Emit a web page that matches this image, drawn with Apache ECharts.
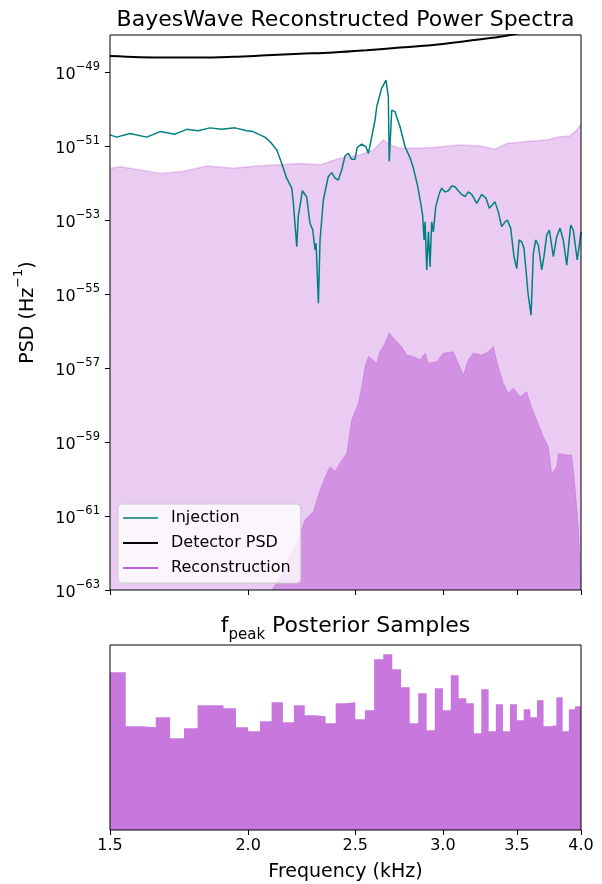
<!DOCTYPE html>
<html><head><meta charset="utf-8">
<script src="https://cdn.jsdelivr.net/npm/echarts@6/dist/echarts.min.js"></script>
<style>html,body{margin:0;padding:0;background:#fff}#c{width:602px;height:884px}</style>
</head><body><div id="c"></div>
<script>
// ---- data (frequency in kHz, PSD given as log10 of Hz^-1) ----
const injFreq = [1.500,1.521,1.564,1.619,1.665,1.717,1.760,1.802,1.847,1.893,
  1.946,1.994,2.020,2.050,2.071,2.093,2.123,2.145,2.167,2.190,
  2.197,2.213,2.220,2.239,2.259,2.275,2.288,2.299,2.304,2.315,
  2.323,2.339,2.363,2.380,2.397,2.413,2.430,2.447,2.464,2.481,
  2.498,2.510,2.534,2.556,2.569,2.587,2.605,2.614,2.641,2.665,
  2.678,2.683,2.697,2.715,2.744,2.773,2.802,2.821,2.845,2.865,
  2.876,2.885,2.891,2.901,2.911,2.921,2.931,2.941,2.956,2.978,
  2.993,3.014,3.034,3.056,3.077,3.098,3.120,3.142,3.163,3.186,
  3.219,3.253,3.282,3.305,3.344,3.367,3.391,3.415,3.431,3.455,
  3.479,3.499,3.516,3.535,3.552,3.567,3.582,3.605,3.622,3.640,
  3.660,3.686,3.703,3.724,3.745,3.776,3.803,3.829,3.855,3.883,
  3.915,3.936,3.969,3.986,4.000];
const injLogPSD = [-50.70,-50.76,-50.66,-50.76,-50.61,-50.68,-50.55,-50.59,-50.51,-50.55,
  -50.51,-50.59,-50.61,-50.70,-50.76,-50.88,-51.11,-51.47,-51.87,-52.14,
  -52.51,-53.72,-52.91,-52.21,-52.37,-53.09,-53.27,-53.81,-53.63,-55.25,
  -53.54,-52.46,-51.83,-51.72,-51.87,-51.92,-51.65,-51.27,-51.20,-51.36,
  -51.36,-51.04,-50.95,-51.02,-51.20,-50.75,-50.30,-49.94,-49.44,-49.22,
  -49.67,-51.42,-50.03,-50.07,-50.48,-51.02,-51.32,-51.59,-52.05,-52.55,
  -52.86,-53.54,-53.05,-54.35,-53.32,-54.26,-53.05,-53.32,-52.64,-52.28,
  -52.14,-52.24,-52.21,-52.08,-52.10,-52.21,-52.31,-52.37,-52.24,-52.31,
  -52.55,-52.31,-52.41,-52.68,-52.51,-52.78,-53.18,-53.05,-53.00,-53.22,
  -53.99,-54.31,-53.54,-53.59,-53.76,-54.35,-54.98,-55.57,-53.90,-53.54,
  -53.68,-54.35,-53.99,-53.41,-53.27,-53.99,-53.45,-53.22,-53.54,-54.22,
  -53.14,-53.27,-54.08,-53.68,-53.32];

const detFreq = [1.500,1.597,1.688,1.809,1.938,2.079,2.228,2.387,2.560,2.744,2.939,3.153,3.379,3.597,4.000];
const detLogPSD = [-48.57,-48.60,-48.61,-48.61,-48.59,-48.55,-48.51,-48.47,-48.41,-48.34,-48.27,-48.16,-48.05,-47.89,-47.65];

const recUpperFreq = [1.500,1.532,1.597,1.665,1.747,1.835,1.939,2.036,2.137,2.228,
  2.323,2.422,2.525,2.596,2.650,2.687,2.744,2.841,2.941,3.109,
  3.241,3.344,3.427,3.572,3.724,3.829,3.909,3.959,4.000];
const recUpperLogPSD = [-51.60,-51.56,-51.65,-51.74,-51.69,-51.54,-51.60,-51.54,-51.51,-51.47,
  -51.51,-51.33,-51.24,-51.11,-50.84,-50.97,-51.06,-51.06,-51.04,-50.97,
  -51.00,-51.09,-50.93,-50.88,-50.84,-50.75,-50.73,-50.59,-50.41];

const recMedFreq = [2.102,2.146,2.182,2.210,2.251,2.291,2.323,2.355,2.372,2.397,
  2.430,2.456,2.481,2.516,2.534,2.551,2.569,2.614,2.632,2.660,
  2.683,2.715,2.754,2.782,2.821,2.861,2.891,2.911,2.962,3.003,
  3.066,3.098,3.131,3.163,3.196,3.253,3.298,3.332,3.367,3.402,
  3.438,3.474,3.523,3.572,3.610,3.648,3.698,3.737,3.763,3.803,
  3.815,3.883,3.923,3.950,3.978,4.000];
const recMedLogPSD = [-63.00,-62.59,-62.05,-61.78,-61.11,-60.88,-60.30,-59.85,-59.67,-59.80,
  -59.49,-59.31,-58.41,-57.95,-57.51,-56.96,-56.69,-56.87,-56.56,-56.33,
  -56.05,-56.24,-56.42,-56.65,-56.69,-56.78,-56.60,-56.87,-56.83,-56.60,
  -56.56,-56.87,-57.19,-56.78,-56.60,-56.65,-56.56,-56.42,-56.96,-57.41,
  -57.68,-57.55,-57.78,-57.64,-58.09,-58.41,-58.86,-59.13,-59.85,-59.67,
  -59.31,-59.35,-59.35,-60.21,-61.29,-62.81];

const histEdges = [1.50,1.55,1.60,1.65,1.70,1.75,1.80,1.85,1.90,1.95,
  2.00,2.05,2.10,2.15,2.20,2.25,2.30,2.35,2.40,2.45,
  2.50,2.55,2.60,2.65,2.70,2.75,2.80,2.85,2.90,2.95,
  3.00,3.05,3.10,3.15,3.20,3.25,3.30,3.35,3.40,3.45,
  3.50,3.55,3.60,3.65,3.70,3.75,3.80,3.85,3.90,3.95,4.00];
const histCounts = [474,312,309,339,276,306,375,375,366,309,
  297,327,384,324,375,345,342,321,381,384,
  333,360,513,528,483,429,321,411,300,426,
  360,465,396,381,291,423,297,378,297,378,
  330,363,339,390,312,315,399,297,363,372];

const xTicks = [1.5,2.0,2.5,3.0,3.5,4.0];
const yTickExps = [-63,-61,-59,-57,-55,-53,-51,-49];

// ---- build ----
const zip = (a,b) => a.map((v,i) => [v,b[i]]);
const histData = histCounts.map((c,i) => [histEdges[i], c]).concat([[histEdges[histEdges.length-1], histCounts[histCounts.length-1]]]);
const FONT = 'DejaVu Sans';
const ORCHID = '#BA55D3';

const chart = echarts.init(document.getElementById('c'), null, {renderer:'canvas'});
chart.setOption({
  animation: false,
  backgroundColor: '#fff',
  title: [
    {text: 'BayesWave Reconstructed Power Spectra', left: 345.5, top: 9, textAlign: 'center', padding: 0,
     textStyle: {fontFamily: FONT, fontSize: 22, fontWeight: 'normal', color: '#000', lineHeight: 22}},
    {text: '{b|f}{sub|peak}{b| Posterior Samples}', left: 345.5, top: 615, textAlign: 'center', padding: 0,
     textStyle: {fontFamily: FONT, fontSize: 22, fontWeight: 'normal', color: '#000',
       rich: {b: {fontFamily: FONT, fontSize: 22, color: '#000', lineHeight: 28, verticalAlign: 'top'},
              sub: {fontFamily: FONT, fontSize: 15, color: '#000', lineHeight: 15, verticalAlign: 'bottom'}}}}
  ],
  legend: {
    orient: 'vertical', left: 118, top: 504,
    data: [
      {name: 'Injection', itemStyle: {color: '#3E9E9E'}},
      {name: 'Detector PSD', itemStyle: {color: '#000'}},
      {name: 'Reconstruction', itemStyle: {color: '#C060D8'}}
    ],
    icon: 'rect', itemWidth: 35, itemHeight: 2, itemGap: 9,
    itemStyle: {borderWidth: 0},
    textStyle: {fontFamily: FONT, fontSize: 16, color: '#000', padding: [0,0,0,8]},
    backgroundColor: 'rgba(255,255,255,0.8)', borderColor: '#cccccc', borderWidth: 1, borderRadius: 4,
    padding: [6, 10, 7, 5]
  },
  grid: [
    {left: 110, top: 35, width: 471, height: 555, show: true, borderColor: '#000', borderWidth: 1, backgroundColor: 'transparent', z: 10},
    {left: 110, top: 645, width: 471, height: 185, show: true, borderColor: '#000', borderWidth: 1, backgroundColor: 'transparent', z: 10}
  ],
  xAxis: [
    {gridIndex: 0, type: 'log', logBase: 10, min: 1.5, max: 4.0,
     axisLine: {show: false}, splitLine: {show: false}, minorTick: {show: false},
     axisTick: {show: true, customValues: xTicks, length: 5, lineStyle: {color: '#000'}},
     axisLabel: {show: false}},
    {gridIndex: 1, type: 'log', logBase: 10, min: 1.5, max: 4.0,
     axisLine: {show: false}, splitLine: {show: false}, minorTick: {show: false},
     axisTick: {show: true, customValues: xTicks, length: 5, lineStyle: {color: '#000'}},
     axisLabel: {show: true, customValues: xTicks, formatter: v => Number(v).toFixed(1), margin: 8,
                 fontFamily: FONT, fontSize: 16, color: '#000'},
     name: 'Frequency (kHz)', nameLocation: 'middle', nameGap: 33,
     nameTextStyle: {fontFamily: FONT, fontSize: 19, color: '#000'}}
  ],
  yAxis: [
    {gridIndex: 0, type: 'value', min: -63, max: -48,
     axisLine: {show: false}, splitLine: {show: false},
     axisTick: {show: true, customValues: yTickExps, length: 5, lineStyle: {color: '#000'}},
     axisLabel: {show: true, customValues: yTickExps, margin: 10,
       formatter: v => '{b|10}{s|\u2212' + Math.abs(Math.round(v)) + '}',
       rich: {b: {fontFamily: FONT, fontSize: 16, color: '#000', lineHeight: 22, verticalAlign: 'bottom'},
              s: {fontFamily: FONT, fontSize: 11.5, color: '#000', lineHeight: 11, verticalAlign: 'top'}}},
     name: '{b|PSD (Hz}{s|\u22121}{b|)}', nameLocation: 'middle', nameGap: 72, nameRotate: 90,
     nameTextStyle: {fontFamily: FONT, fontSize: 19, color: '#000',
       rich: {b: {fontFamily: FONT, fontSize: 19, color: '#000', lineHeight: 26, verticalAlign: 'bottom'},
              s: {fontFamily: FONT, fontSize: 13, color: '#000', lineHeight: 13, verticalAlign: 'top'}}}},
    {gridIndex: 1, type: 'value', min: 0, max: 556, show: false}
  ],
  series: [
    {name: 'Reconstruction', type: 'line', xAxisIndex: 0, yAxisIndex: 0, data: zip(recUpperFreq, recUpperLogPSD),
     symbol: 'none', lineStyle: {color: ORCHID, width: 1.5, opacity: 0.3},
     areaStyle: {color: ORCHID, opacity: 0.3, origin: 'start'}, itemStyle: {color: ORCHID}, z: 1},
    {name: 'Reconstruction', type: 'line', xAxisIndex: 0, yAxisIndex: 0, data: zip(recMedFreq, recMedLogPSD),
     symbol: 'none', lineStyle: {color: ORCHID, width: 1, opacity: 0.35},
     areaStyle: {color: ORCHID, opacity: 0.5, origin: 'start'}, itemStyle: {color: ORCHID}, z: 2},
    {name: 'Injection', type: 'line', xAxisIndex: 0, yAxisIndex: 0, data: zip(injFreq, injLogPSD),
     symbol: 'none', lineStyle: {color: '#008080', width: 1.5}, itemStyle: {color: '#008080'}, z: 3},
    {name: 'Detector PSD', type: 'line', xAxisIndex: 0, yAxisIndex: 0, data: zip(detFreq, detLogPSD),
     symbol: 'none', smooth: 0.4, lineStyle: {color: '#000', width: 2}, itemStyle: {color: '#000'}, z: 4},
    {name: 'fpeak', type: 'line', xAxisIndex: 1, yAxisIndex: 1, data: histData, step: 'end',
     symbol: 'none', lineStyle: {width: 0}, itemStyle: {color: ORCHID},
     areaStyle: {color: ORCHID, opacity: 0.8, origin: 'start'}}
  ]
});
</script></body></html>
